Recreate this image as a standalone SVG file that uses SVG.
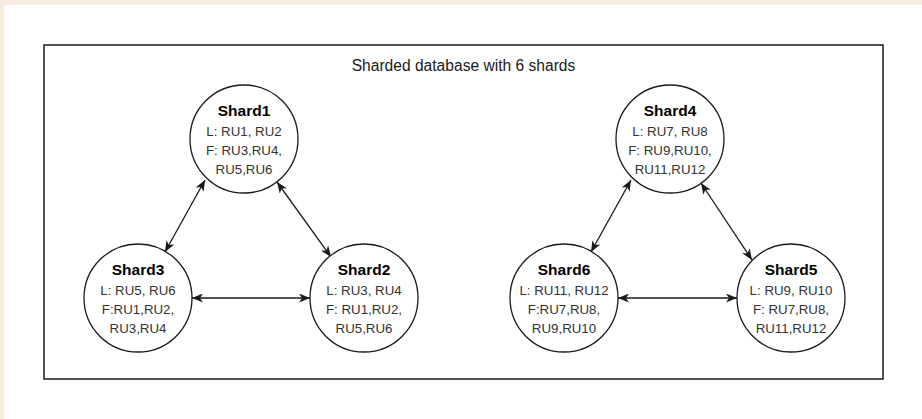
<svg xmlns="http://www.w3.org/2000/svg" width="922" height="419" viewBox="0 0 922 419">
  <style>
    .node { fill: #ffffff; stroke: #1a1a1a; stroke-width: 1.3; }
    .title { font-family: "Liberation Sans", Arial, sans-serif; font-size: 15.5px; font-weight: bold; fill: #000000; text-anchor: middle; }
    .body { font-family: "Liberation Sans", Arial, sans-serif; font-size: 13.3px; fill: #333333; text-anchor: middle; }
    .caption { font-family: "Liberation Sans", Arial, sans-serif; font-size: 15.6px; fill: #1a1a1a; text-anchor: middle; }
    .edge { stroke: #1a1a1a; stroke-width: 1.3; fill: none; marker-start: url(#arrow); marker-end: url(#arrow); }
  </style>
  <defs>
    <marker id="arrow" viewBox="0 0 11 9" refX="11" refY="4.5" markerWidth="11" markerHeight="9" markerUnits="userSpaceOnUse" orient="auto-start-reverse">
      <path d="M11,4.5 L0,0 L3,4.5 L0,9 Z" fill="#1a1a1a"/>
    </marker>
  </defs>

  <rect x="0" y="0" width="922" height="419" fill="#f5eee0"/>
  <rect x="4" y="5" width="918" height="414" fill="#ffffff"/>

  <g id="frame">
    <rect x="44" y="45" width="839" height="334" fill="#ffffff" stroke="#1a1a1a" stroke-width="1.5"/>
    <text class="caption" x="463.5" y="71">Sharded database with 6 shards</text>
  </g>

  <g id="connectors">
    <line class="edge" x1="205" y1="180" x2="165" y2="252"/>
    <line class="edge" x1="277" y1="182" x2="331" y2="257"/>
    <line class="edge" x1="192" y1="298" x2="310" y2="298"/>
    <line class="edge" x1="631" y1="180" x2="591" y2="252"/>
    <line class="edge" x1="701" y1="183" x2="752" y2="260"/>
    <line class="edge" x1="618" y1="298" x2="737" y2="298"/>
  </g>

  <g id="shard1">
    <circle class="node" cx="244" cy="139" r="54"/>
    <text class="title" x="244" y="116">Shard1</text>
    <text class="body" x="244" y="136">L: RU1, RU2</text>
    <text class="body" x="244" y="155">F: RU3,RU4,</text>
    <text class="body" x="244" y="174">RU5,RU6</text>
  </g>
  <g id="shard3">
    <circle class="node" cx="138" cy="298" r="54"/>
    <text class="title" x="138" y="275">Shard3</text>
    <text class="body" x="138" y="295">L: RU5, RU6</text>
    <text class="body" x="138" y="314">F:RU1,RU2,</text>
    <text class="body" x="138" y="333">RU3,RU4</text>
  </g>
  <g id="shard2">
    <circle class="node" cx="364" cy="298" r="54"/>
    <text class="title" x="364" y="275">Shard2</text>
    <text class="body" x="364" y="295">L: RU3, RU4</text>
    <text class="body" x="364" y="314">F: RU1,RU2,</text>
    <text class="body" x="364" y="333">RU5,RU6</text>
  </g>
  <g id="shard4">
    <circle class="node" cx="670" cy="139" r="54"/>
    <text class="title" x="670" y="116">Shard4</text>
    <text class="body" x="670" y="136">L: RU7, RU8</text>
    <text class="body" x="670" y="155">F: RU9,RU10,</text>
    <text class="body" x="670" y="174">RU11,RU12</text>
  </g>
  <g id="shard6">
    <circle class="node" cx="564" cy="298" r="54"/>
    <text class="title" x="564" y="275">Shard6</text>
    <text class="body" x="564" y="295">L: RU11, RU12</text>
    <text class="body" x="564" y="314">F:RU7,RU8,</text>
    <text class="body" x="564" y="333">RU9,RU10</text>
  </g>
  <g id="shard5">
    <circle class="node" cx="791" cy="298" r="54"/>
    <text class="title" x="791" y="275">Shard5</text>
    <text class="body" x="791" y="295">L: RU9, RU10</text>
    <text class="body" x="791" y="314">F: RU7,RU8,</text>
    <text class="body" x="791" y="333">RU11,RU12</text>
  </g>
</svg>
